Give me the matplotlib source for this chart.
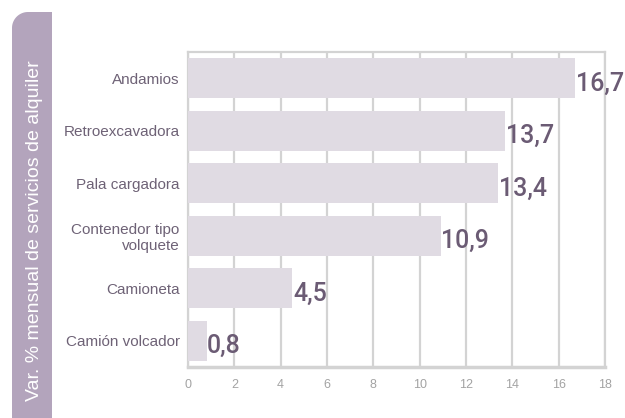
import matplotlib
matplotlib.use("Agg")
import matplotlib.pyplot as plt
import numpy as np
from matplotlib.path import Path
from matplotlib.patches import PathPatch

categories = ["Andamios", "Retroexcavadora", "Pala cargadora",
              "Contenedor tipo\nvolquete", "Camioneta", "Camión volcador"]
values = [16.7, 13.7, 13.4, 10.9, 4.5, 0.8]
xticks = [0, 2, 4, 6, 8, 10, 12, 14, 16, 18]
ylabel = "Var. % mensual de servicios de alquiler"

plt.rcParams['font.family'] = ['Liberation Sans', 'DejaVu Sans']

W, H = 625, 418
fig = plt.figure(figsize=(W / 100, H / 100), dpi=100)
fig.patch.set_facecolor("white")

# left decorative panel with rounded top-left corner
x0, x1, y0, r = 12, 52, 12, 16
th = np.linspace(np.pi, np.pi / 2, 20)
arc = [(x0 + r + r * np.cos(t), y0 + r - r * np.sin(t)) for t in th]
pts = [(x0, H)] + [(x0, y0 + r)] + arc + [(x1, y0), (x1, H), (x0, H)]
pts = [(px / W, 1 - py / H) for px, py in pts]
codes = [Path.MOVETO] + [Path.LINETO] * (len(pts) - 2) + [Path.CLOSEPOLY]
fig.patches.append(PathPatch(Path(pts, codes), transform=fig.transFigure,
                             facecolor="#b3a4bc", edgecolor="none"))
fig.text(35 / W, 1 - 401 / H, ylabel, rotation=90, ha="center", va="bottom",
         color="white", fontsize=14)

ax = fig.add_axes([188 / W, 1 - 367 / H, (605 - 188) / W, (367 - 52) / H])
y = np.arange(len(categories))
ax.barh(y, values, height=0.76, color="#e0dbe3", zorder=3)
ax.set_xlim(0, 18)
ax.set_ylim(len(categories) - 0.5, -0.5)
ax.set_xticks(xticks)
ax.set_xticklabels([str(t) for t in xticks], color="#a3a3a3", fontsize=9)
ax.set_yticks(y)
ax.set_yticklabels(categories, color="#6e6276", fontsize=11)
ax.tick_params(axis="both", length=0)
ax.tick_params(axis="x", pad=9)
ax.tick_params(axis="y", pad=6)
ax.grid(axis="x", color="#d3d3d3", linewidth=1.6, zorder=0)
for s in ["top", "right", "left"]:
    ax.spines[s].set_color("#d3d3d3")
    ax.spines[s].set_linewidth(1.6)
ax.spines["bottom"].set_color("#d3d3d3")
ax.spines["bottom"].set_linewidth(2.5)

for yi, v in zip(y, values):
    ax.annotate(f"{v:.1f}".replace(".", ","), (v, yi), xytext=(0.5, -4),
                textcoords="offset points", ha="left", va="center",
                fontsize=18, color="#6b5b74", zorder=4,
                family=["Roboto", "Liberation Sans"], fontweight="medium",
                annotation_clip=False)

fig.savefig("out.png", dpi=100)
